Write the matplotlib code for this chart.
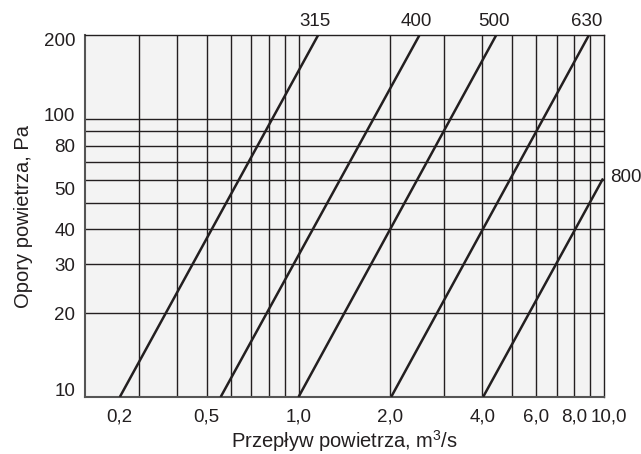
import matplotlib
matplotlib.use("Agg")
import matplotlib.pyplot as plt
import matplotlib.transforms as mtransforms
from matplotlib.ticker import FixedLocator, NullLocator

plt.rcParams['font.family'] = ['Liberation Sans', 'DejaVu Sans']
plt.rcParams['mathtext.fontset'] = 'custom'
plt.rcParams['mathtext.rm'] = 'Liberation Sans'

# Data: straight lines (dp ~ Q^2) for each duct size, as endpoints
series_names = ["315", "400", "500", "630", "800"]
q_start = [0.26, 0.556, 1.0, 2.01, 4.02]
q_end = [1.16, 2.49, 4.44, 8.93, 9.93]
p_start = [10, 10, 10, 10, 10]
p_end = [200, 200, 200, 200, 61]

x_grid = [0.3, 0.4, 0.5, 0.6, 0.7, 0.8, 0.9, 1.0, 2.0, 3.0, 4.0, 5.0, 6.0, 7.0, 8.0, 9.0]
y_grid = [20, 30, 40, 50, 60, 70, 80, 90, 100]

x_ticks = [0.2, 0.5, 1.0, 2.0, 4.0, 6.0, 8.0, 10.0]
x_ticklabels = ["0,2", "0,5", "1,0", "2,0", "4,0", "6,0", "8,0", "10,0"]
y_ticks = [10, 20, 30, 40, 50, 80, 100, 200]
y_ticklabels = ["10", "20", "30", "40", "50", "80", "100", "200"]

line_col = "#231f20"

fig = plt.figure(figsize=(6.41, 4.54), dpi=100)
ax = fig.add_axes([85/641, 57/454, 519/641, 362/454])
ax.set_facecolor("#f3f3f3")
ax.set_xscale("log")
ax.set_yscale("log")
ax.set_xlim(0.2, 10)
ax.set_ylim(10, 200)

for xv in x_grid:
    ax.axvline(xv, color=line_col, lw=1.0, zorder=1)
for yv in y_grid:
    ax.axhline(yv, color=line_col, lw=1.0, zorder=1)

for name, qa, qb, pa, pb in zip(series_names, q_start, q_end, p_start, p_end):
    ax.plot([qa, qb], [pa, pb], color=line_col, lw=1.8, zorder=3, solid_capstyle='butt')
    if name == "800":
        ax.annotate(name, xy=(qb, pb), xytext=(5, 1), textcoords='offset points',
                    ha='left', va='center', fontsize=13.5, color=line_col, annotation_clip=False)
    else:
        ax.annotate(name, xy=(qb, pb), xytext=(-2, 10), textcoords='offset points',
                    ha='center', va='center', fontsize=13.5, color=line_col, annotation_clip=False)

ax.xaxis.set_major_locator(FixedLocator(x_ticks))
ax.xaxis.set_minor_locator(NullLocator())
ax.set_xticklabels(x_ticklabels)
ax.yaxis.set_major_locator(FixedLocator(y_ticks))
ax.yaxis.set_minor_locator(NullLocator())
ax.set_yticklabels(y_ticklabels)
ax.tick_params(axis='both', length=0, labelsize=13.5, colors=line_col)
ax.tick_params(axis='x', pad=8)
ax.tick_params(axis='y', pad=7)

# nudge a few labels to match the original layout
xl = ax.get_xticklabels()
xl[0].set_transform(xl[0].get_transform() + mtransforms.ScaledTranslation(34/100, 0, fig.dpi_scale_trans))
xl[-1].set_transform(xl[-1].get_transform() + mtransforms.ScaledTranslation(5/100, 0, fig.dpi_scale_trans))
yl = ax.get_yticklabels()
yl[4].set_transform(yl[4].get_transform() + mtransforms.ScaledTranslation(0, 14/100, fig.dpi_scale_trans))
yl[0].set_transform(yl[0].get_transform() + mtransforms.ScaledTranslation(0, 8/100, fig.dpi_scale_trans))
yl[-1].set_transform(yl[-1].get_transform() + mtransforms.ScaledTranslation(0, -4/100, fig.dpi_scale_trans))
yl[-2].set_transform(yl[-2].get_transform() + mtransforms.ScaledTranslation(0, 4/100, fig.dpi_scale_trans))

for s in ax.spines.values():
    s.set_color(line_col)
    s.set_linewidth(1.0)
ax.spines['left'].set_color("#555555")
ax.spines['left'].set_linewidth(1.5)
ax.spines['bottom'].set_color("#555555")
ax.spines['bottom'].set_linewidth(1.5)

ax.set_xlabel("Przepływ powietrza, m$^3$/s", fontsize=14.5, color=line_col, labelpad=2)
ax.set_ylabel("Opory powietrza, Pa", fontsize=14.5, color=line_col, labelpad=8)

fig.savefig("out.png", dpi=100)
